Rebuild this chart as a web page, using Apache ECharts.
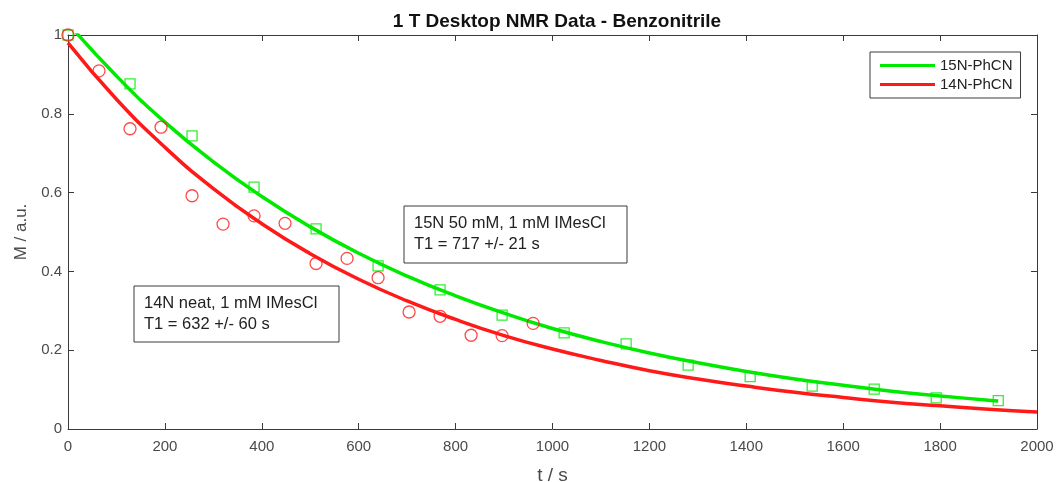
<!DOCTYPE html>
<html>
<head>
<meta charset="utf-8">
<script src="https://cdn.jsdelivr.net/npm/echarts@6/dist/echarts.min.js"></script>
<style>html,body{margin:0;padding:0;background:#fff}#c{width:1057px;height:482px}</style>
</head>
<body>
<div id="c"></div>
<script>
// Measured points
const t15 = [0, 128, 256, 384, 512, 640, 768, 896, 1024, 1152, 1280, 1408, 1536, 1664, 1792, 1920];
const m15 = [1.0, 0.876, 0.744, 0.614, 0.508, 0.414, 0.353, 0.289, 0.244, 0.216, 0.162, 0.133, 0.109, 0.101, 0.079, 0.072];
const t14 = [0, 64, 128, 192, 256, 320, 384, 448, 512, 576, 640, 704, 768, 832, 896, 960];
const m14 = [1.0, 0.909, 0.762, 0.766, 0.592, 0.520, 0.541, 0.522, 0.420, 0.433, 0.384, 0.297, 0.286, 0.238, 0.237, 0.268];
// Fit curves
const tFit15 = [0, 100, 200, 300, 400, 500, 600, 700, 800, 900, 1000, 1100, 1200, 1300, 1400, 1500, 1600, 1700, 1800, 1900, 1920];
const mFit15 = [1.030, 0.896, 0.779, 0.678, 0.590, 0.513, 0.446, 0.388, 0.338, 0.294, 0.255, 0.222, 0.193, 0.168, 0.146, 0.127, 0.111, 0.096, 0.084, 0.073, 0.071];
const tFit14 = [0, 100, 200, 300, 400, 500, 600, 700, 800, 900, 1000, 1100, 1200, 1300, 1400, 1500, 1600, 1700, 1800, 1900, 2000];
const mFit14 = [0.980, 0.837, 0.715, 0.610, 0.521, 0.445, 0.380, 0.325, 0.278, 0.237, 0.203, 0.174, 0.148, 0.127, 0.109, 0.093, 0.080, 0.068, 0.059, 0.050, 0.043];
const xTicks = { min: 0, max: 2000, interval: 200 };
const yTicks = { min: 0, max: 1, interval: 0.2 };
const names = ['15N-PhCN', '14N-PhCN'];
const titleText = '1 T Desktop NMR Data - Benzonitrile';
const note15 = ['15N 50 mM, 1 mM IMesCl', 'T1 = 717 +/- 21 s'];
const note14 = ['14N neat, 1 mM IMesCl', 'T1 = 632 +/- 60 s'];

const GREEN = '#00ea00', RED = '#ff1a1a', AX = '#3a3a3a', LBL = '#4a4a4a';
const FONT = 'Liberation Sans, Arial, sans-serif';
const zip = (a, b) => a.map((v, i) => [v, b[i]]);

const chart = echarts.init(document.getElementById('c'));
const axCommon = {
  type: 'value', splitLine: { show: false },
  axisLine: { show: true, onZero: false, lineStyle: { color: AX, width: 1 } },
  axisTick: { show: true, inside: true, length: 6, lineStyle: { color: AX } }
};
chart.setOption({
  animation: false,
  title: { text: titleText, left: 552, top: 7, textAlign: 'center',
    textStyle: { fontFamily: FONT, fontSize: 19, fontWeight: 'bold', color: '#111' } },
  grid: { left: 68, right: 20, top: 35, bottom: 53, show: false, containLabel: false, outerBoundsMode: 'none' },
  legend: {
    data: names, orient: 'vertical', left: 870, top: 52,
    icon: 'rect', itemWidth: 55, itemHeight: 3, itemGap: 4,
    padding: [6, 8, 6, 10], borderColor: AX, borderWidth: 1, backgroundColor: '#fff',
    textStyle: { fontFamily: FONT, fontSize: 15, color: '#222' }
  },
  xAxis: [
    Object.assign({}, axCommon, xTicks, { position: 'bottom',
      name: 't / s', nameLocation: 'middle', nameGap: 37,
      nameTextStyle: { fontFamily: FONT, fontSize: 19, color: LBL },
      axisLabel: { fontFamily: FONT, fontSize: 15, color: LBL, margin: 10, formatter: v => String(v) } }),
    Object.assign({}, axCommon, xTicks, { position: 'top', axisLabel: { show: false } })
  ],
  yAxis: [
    Object.assign({}, axCommon, yTicks, { position: 'left',
      name: 'M / a.u.', nameLocation: 'middle', nameGap: 38,
      nameTextStyle: { fontFamily: FONT, fontSize: 17, color: LBL },
      axisLabel: { fontFamily: FONT, fontSize: 15, color: LBL, margin: 6, formatter: v => String(v) } }),
    Object.assign({}, axCommon, yTicks, { position: 'right', axisLabel: { show: false } })
  ],
  series: [
    { name: names[0], type: 'line', data: zip(tFit15, mFit15), smooth: true, showSymbol: false,
      clip: true, lineStyle: { color: GREEN, width: 3.5 }, itemStyle: { color: GREEN }, z: 3 },
    { name: names[1], type: 'line', data: zip(tFit14, mFit14), smooth: true, showSymbol: false,
      clip: true, lineStyle: { color: RED, width: 3.5 }, itemStyle: { color: RED }, z: 3 },
    { name: '15N data', type: 'scatter', data: zip(t15, m15), symbol: 'rect', symbolSize: 10,
      itemStyle: { color: 'rgba(0,0,0,0)', borderColor: GREEN, borderWidth: 1.3 }, z: 4 },
    { name: '14N data', type: 'scatter', data: zip(t14, m14), symbol: 'circle', symbolSize: 12,
      itemStyle: { color: 'rgba(0,0,0,0)', borderColor: RED, borderWidth: 1.3 }, z: 4 }
  ],
  graphic: [
    { type: 'rect', shape: { x: 404, y: 206, width: 223, height: 57 },
      style: { fill: '#fff', stroke: AX, lineWidth: 1 }, z: 10 },
    { type: 'text', x: 414, y: 213, z: 11,
      style: { text: note15.join('\n'), font: '16.5px ' + FONT, fill: '#222', lineHeight: 21 } },
    { type: 'rect', shape: { x: 134, y: 286, width: 205, height: 56 },
      style: { fill: '#fff', stroke: AX, lineWidth: 1 }, z: 10 },
    { type: 'text', x: 144, y: 293, z: 11,
      style: { text: note14.join('\n'), font: '16.5px ' + FONT, fill: '#222', lineHeight: 21 } }
  ]
});
</script>
</body>
</html>
